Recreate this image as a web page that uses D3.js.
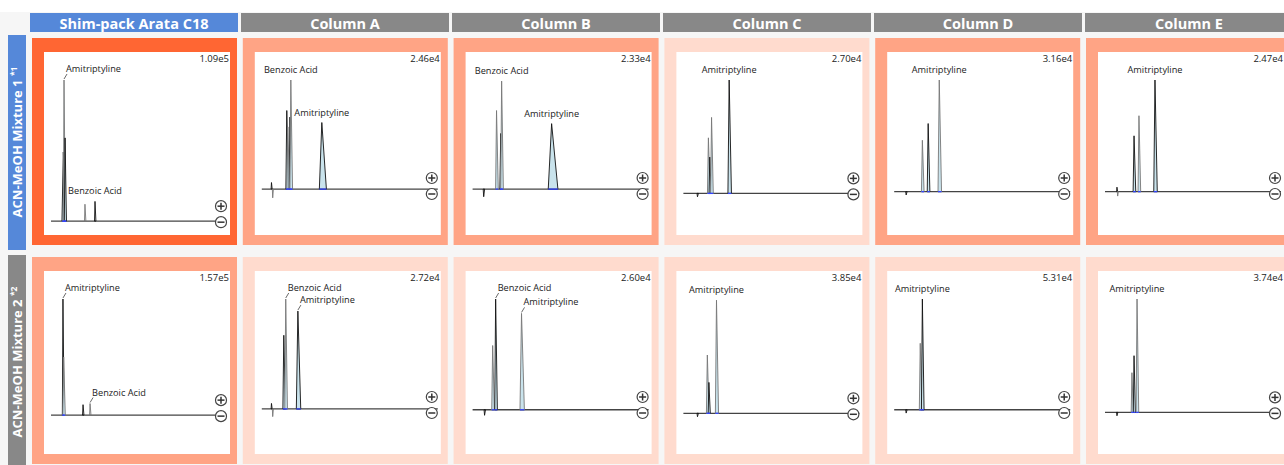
<!DOCTYPE html>
<html>
<head>
<meta charset="utf-8">
<script src="https://cdn.jsdelivr.net/npm/d3@7"></script>
<style>
body{margin:0;background:#fff;overflow:hidden}
text{font-family:"Open Sans","Noto Sans",sans-serif}
</style>
</head>
<body>
<script>
var columns = ['Shim-pack Arata C18', 'Column A', 'Column B', 'Column C', 'Column D', 'Column E'];
var mixtures = ['ACN-MeOH Mixture 1', 'ACN-MeOH Mixture 2'];
var notes = ['*1', '*2'];
// max signal of each chromatogram (row = mixture, col = column)
var maxSignal = [[1.09e5, 2.46e4, 2.33e4, 2.70e4, 3.16e4, 2.47e4],
                 [1.57e5, 2.72e4, 2.60e4, 3.85e4, 5.31e4, 3.74e4]];
// score used for the cell colour
var scores = [[1, .47, .47, 0, .47, .47],
              [.47, 0, 0, 0, 0, 0]];
// lower end of each y axis (fraction of max)
var yMins = [[-0.02, -0.32, -0.32, -0.27, -0.29, -0.29],
             [-0.24, -0.31, -0.30, -0.26, -0.30, -0.27]];
// peaks: [retention time (min), height (fraction of max), base width (min)]
var peaks = [
  [
    [[0.70,0.49,0.22],[0.74,1.0,0.12],[0.80,0.59,0.12],[1.93,0.12,0.08],[2.5,0.14,0.08]],
    [[0.55,0.06,0.06],[0.62,-0.08,0.06],[1.42,0.72,0.15],[1.48,0.57,0.15],[1.60,0.66,0.15],[1.65,1.0,0.15],[3.41,0.61,0.4]],
    [[0.63,-0.07,0.08],[1.36,0.72,0.15],[1.60,0.51,0.15],[1.65,0.99,0.15],[4.49,0.60,0.55]],
    [[0.80,-0.03,0.08],[1.42,0.49,0.15],[1.50,0.32,0.12],[1.60,0.67,0.15],[2.60,1.0,0.2]],
    [[0.68,-0.03,0.08],[1.60,0.46,0.15],[1.93,0.61,0.15],[2.56,1.0,0.2]],
    [[0.68,0.04,0.06],[0.72,-0.04,0.06],[1.65,0.5,0.15],[1.93,0.68,0.15],[2.84,1.0,0.2]]
  ],
  [
    [[0.68,1.0,0.1],[0.72,0.5,0.14],[1.82,0.09,0.08],[2.22,0.10,0.08]],
    [[0.55,0.05,0.06],[0.62,-0.07,0.06],[1.25,0.67,0.15],[1.36,1.0,0.15],[2.05,0.89,0.25]],
    [[0.68,-0.05,0.08],[1.14,0.58,0.15],[1.31,1.0,0.15],[2.78,0.87,0.25]],
    [[0.80,-0.03,0.08],[1.36,0.51,0.15],[1.45,0.27,0.12],[1.88,0.99,0.18]],
    [[0.68,-0.03,0.08],[1.48,0.6,0.15],[1.60,1.0,0.15]],
    [[0.68,-0.03,0.08],[1.53,0.35,0.12],[1.65,0.5,0.12],[1.82,1.0,0.15]]
  ]
];
// labels: [name, peak time, callout]
var labels = [
  [
    [['Amitriptyline',0.74,true],['Benzoic Acid',2.5,false]],
    [['Benzoic Acid',1.65,false],['Amitriptyline',3.41,false]],
    [['Benzoic Acid',1.65,false],['Amitriptyline',4.49,false]],
    [['Amitriptyline',2.60,false]],
    [['Amitriptyline',2.56,false]],
    [['Amitriptyline',2.84,false]]
  ],
  [
    [['Amitriptyline',0.68,true],['Benzoic Acid',2.22,true]],
    [['Benzoic Acid',1.36,true],['Amitriptyline',2.05,true]],
    [['Benzoic Acid',1.31,true],['Amitriptyline',2.78,true]],
    [['Amitriptyline',1.88,false]],
    [['Amitriptyline',1.60,false]],
    [['Amitriptyline',1.82,false]]
  ]
];

var rowColors = ['#5588d9', '#888888'];
var cellColor = d3.scaleLinear().domain([0, 1]).range(['#ffdbce', '#ff6633']);

var svg = d3.select("body").append("svg").attr("width", 1284).attr("height", 465);

svg.append("rect").attr("x", 0).attr("y", 12).attr("width", 1284).attr("height", 453).attr("fill", "#f6f6f6");

// column headers
var hx = d3.scaleLinear().domain([0, 1]).range([30, 241]);
svg.selectAll("rect.head")
  .data(columns)
  .enter().append("rect")
  .attr("class", "head")
  .attr("x", function(d,i){ return hx(i); })
  .attr("y", 13)
  .attr("width", 208)
  .attr("height", 19)
  .attr("fill", function(d,i){ return i == 0 ? rowColors[0] : rowColors[1]; });

svg.selectAll("text.head")
  .data(columns)
  .enter().append("text")
  .attr("class", "head")
  .attr("x", function(d,i){ return hx(i) + 104; })
  .attr("y", 23)
  .attr("dominant-baseline", "central")
  .attr("text-anchor", "middle")
  .attr("fill", "#fff")
  .attr("font-weight", "bold")
  .attr("font-size", "14.5px")
  .text(function(d){ return d; });

// row labels
mixtures.forEach(function(m, r){
  var y0 = 35 + r*220;
  svg.append("rect")
    .attr("x", 8).attr("y", y0)
    .attr("width", 18).attr("height", 215)
    .attr("fill", rowColors[r]);
  var t = svg.append("text")
    .attr("transform", "translate(22," + (y0 + 107) + ") rotate(-90)")
    .attr("text-anchor", "middle")
    .attr("fill", "#fff")
    .attr("font-weight", "bold")
    .attr("font-size", "13px");
  t.append("tspan").text(m + " ");
  t.append("tspan").attr("font-size", "8.5px").attr("dy", -5).text(notes[r]);
});

var fmt = function(v){ return d3.format(".2e")(v).replace("+", ""); };

mixtures.forEach(function(m, r){
  columns.forEach(function(c, i){
    var px = 32 + i*210.8, py = 38 + r*219;
    var g = svg.append("g");
    g.append("rect").attr("x", px).attr("y", py).attr("width", 205).attr("height", 207)
      .attr("fill", cellColor(scores[r][i]));
    g.append("rect").attr("x", px + 12).attr("y", py + 14).attr("width", 186).attr("height", 183)
      .attr("fill", "#fff");

    var x = d3.scaleLinear().domain([0, 10]).range([px + 19, px + 195]);
    var y = d3.scaleLinear().domain([yMins[r][i], 1]).range([py + 186, py + 42]);

    // baseline
    g.append("line")
      .attr("x1", x(0)).attr("x2", x(10))
      .attr("y1", y(0)).attr("y2", y(0))
      .attr("stroke", "#444").attr("stroke-width", 1.3);

    // peaks
    g.selectAll("path.peak")
      .data(peaks[r][i])
      .enter().append("path")
      .attr("class", "peak")
      .attr("d", function(d){
        return "M" + x(d[0] - d[2]*0.35) + "," + y(0) +
               "L" + x(d[0]) + "," + y(d[1]) +
               "L" + x(d[0] + d[2]*0.65) + "," + y(0) + "Z";
      })
      .attr("fill", function(d){ return d[1] > 0.2 ? "#c9e3ec" : "none"; })
      .attr("stroke", function(d,k){ return k % 2 ? "#777" : "#111"; })
      .attr("stroke-width", 0.9);

    // integration marks
    g.selectAll("line.int")
      .data(peaks[r][i].filter(function(d){ return d[1] > 0.2; }))
      .enter().append("line")
      .attr("class", "int")
      .attr("x1", function(d){ return x(d[0] - d[2]*0.35); })
      .attr("x2", function(d){ return x(d[0] + d[2]*0.65); })
      .attr("y1", y(0)).attr("y2", y(0))
      .attr("stroke", "#3344ff").attr("stroke-width", 1.3);

    // max label
    g.append("text")
      .attr("x", px + 197).attr("y", py + 24)
      .attr("text-anchor", "end")
      .attr("font-size", "9.5px")
      .attr("fill", "#222")
      .text(fmt(maxSignal[r][i]));

    // peak labels
    labels[r][i].forEach(function(l){
      var pk = peaks[r][i].filter(function(d){ return d[0] == l[1]; })[0];
      var lx = x(pk[0]), ly = y(pk[1]);
      if (l[2]) {
        g.append("line")
          .attr("x1", lx).attr("y1", ly - 1)
          .attr("x2", lx + 3).attr("y2", ly - 6)
          .attr("stroke", "#444").attr("stroke-width", 0.8);
        g.append("text")
          .attr("x", lx + 2).attr("y", ly - 8)
          .attr("font-size", "9.2px").attr("fill", "#222")
          .text(l[0]);
      } else {
        g.append("text")
          .attr("x", lx).attr("y", ly - 7)
          .attr("text-anchor", "middle")
          .attr("font-size", "9.2px").attr("fill", "#222")
          .text(l[0]);
      }
    });

    // zoom icons
    var my = Math.max(py + 156, y(0) + 1);
    [my - 16, my].forEach(function(cy, k){
      g.append("circle").attr("cx", px + 189).attr("cy", cy).attr("r", 5.5)
        .attr("fill", "#fff").attr("stroke", "#444").attr("stroke-width", 1.2);
      g.append("line").attr("x1", px + 185.5).attr("x2", px + 192.5)
        .attr("y1", cy).attr("y2", cy).attr("stroke", "#333").attr("stroke-width", 1.5);
      if (k == 0) {
        g.append("line").attr("x1", px + 189).attr("x2", px + 189)
          .attr("y1", cy - 3.5).attr("y2", cy + 3.5).attr("stroke", "#333").attr("stroke-width", 1.5);
      }
    });
  });
});
</script>
</body>
</html>
